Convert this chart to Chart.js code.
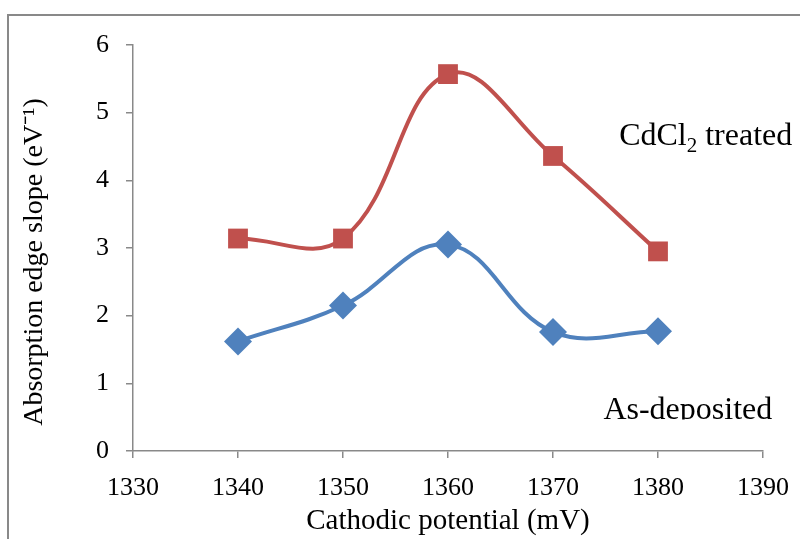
<!DOCTYPE html>
<html>
<head>
<meta charset="utf-8">
<script src="https://cdn.jsdelivr.net/npm/chart.js@4.4.0/dist/chart.umd.min.js"></script>
<style>
  body { margin: 0; background: #fff; }
  #wrap { width: 800px; height: 539px; position: relative; }
</style>
</head>
<body>
<div id="wrap"><canvas id="graphSlope" width="800" height="539"></canvas></div>
<script>
var potentials = [1340, 1350, 1360, 1370, 1380];
var asDeposited = [1.62, 2.15, 3.05, 1.76, 1.77];
var cdcl2Treated = [3.14, 3.14, 5.57, 4.36, 2.95];
var xTicks = [1330, 1340, 1350, 1360, 1370, 1380, 1390];
var yTicks = [0, 1, 2, 3, 4, 5, 6];

var serif = "'Liberation Serif', 'Times New Roman', serif";

function toPoints(values) {
    return potentials.map(function (p, i) { return { x: p, y: values[i] }; });
}

// outer frame of the figure
var framePlugin = {
    id: 'frame',
    beforeDraw: function (chart) {
        var ctx = chart.ctx;
        ctx.save();
        ctx.fillStyle = '#fff';
        ctx.fillRect(0, 0, chart.width, chart.height);
        ctx.strokeStyle = '#898989';
        ctx.lineWidth = 2;
        ctx.strokeRect(8, 15, 900, 900);
        ctx.restore();
    }
};

// series labels written on the plot (CdCl2 needs a subscript)
var labelPlugin = {
    id: 'seriesLabels',
    afterDatasetsDraw: function (chart) {
        var ctx = chart.ctx;
        var xs = chart.scales.x, ys = chart.scales.y;
        ctx.save();
        ctx.fillStyle = '#000';
        ctx.textBaseline = 'alphabetic';
        ctx.font = '32px ' + serif;
        var x = xs.getPixelForValue(1376.3);
        var y = ys.getPixelForValue(4.52);
        ctx.fillText('CdCl', x, y);
        x += ctx.measureText('CdCl').width;
        ctx.font = '21px ' + serif;
        ctx.fillText('2', x, y + 7);
        x += ctx.measureText('2').width;
        ctx.font = '32px ' + serif;
        ctx.fillText(' treated', x, y);

        // the original cuts this label off just under its baseline
        var yb = ys.getPixelForValue(0.48);
        ctx.beginPath();
        ctx.rect(0, 0, chart.width, yb + 1);
        ctx.clip();
        ctx.fillText('As-deposited', xs.getPixelForValue(1374.8), yb);
        ctx.restore();
    }
};

var ctxSlope = document.querySelector('#graphSlope');
var chartSlope = new Chart(ctxSlope, {
    type: 'line',
    data: {
        datasets: [
            {
                label: 'CdCl2 treated',
                data: toPoints(cdcl2Treated),
                borderColor: '#C0504D',
                backgroundColor: '#C0504D',
                borderWidth: 4,
                pointStyle: 'rect',
                pointRadius: 14,
                pointBorderWidth: 0,
                tension: 0.4
            },
            {
                label: 'As-deposited',
                data: toPoints(asDeposited),
                borderColor: '#4F81BD',
                backgroundColor: '#4F81BD',
                borderWidth: 4,
                pointStyle: 'rectRot',
                pointRadius: 14,
                pointBorderWidth: 0,
                tension: 0.4
            }
        ]
    },
    options: {
        responsive: false,
        animation: false,
        layout: { padding: { left: 0, right: 37, top: 45, bottom: 0 } },
        plugins: {
            legend: { display: false },
            tooltip: { enabled: false }
        },
        scales: {
            x: {
                type: 'linear',
                min: 1330,
                max: 1390,
                afterBuildTicks: function (axis) {
                    axis.ticks = xTicks.map(function (v) { return { value: v }; });
                },
                afterFit: function (axis) {
                    axis.height = 88;
                    axis.paddingRight = 0;
                },
                grid: { display: true, drawOnChartArea: false, drawTicks: true, tickLength: 7, color: '#898989', lineWidth: 1.5 },
                border: { color: '#898989', width: 1.5 },
                ticks: {
                    color: '#000', font: { family: serif, size: 26 }, padding: 15, maxRotation: 0,
                    callback: function (v) { return String(v); }
                },
                title: { display: true, text: 'Cathodic potential (mV)', color: '#000', font: { family: serif, size: 29 }, padding: { top: 2, bottom: 0 } }
            },
            y: {
                min: 0,
                max: 6,
                afterBuildTicks: function (axis) {
                    axis.ticks = yTicks.map(function (v) { return { value: v }; });
                },
                afterFit: function (axis) { axis.width = 133; },
                grid: { display: true, drawOnChartArea: false, drawTicks: true, tickLength: 7, color: '#898989', lineWidth: 1.5 },
                border: { color: '#898989', width: 1.5 },
                ticks: { color: '#000', font: { family: serif, size: 26 }, padding: 17 },
                title: { display: true, text: 'Absorption edge slope (eV\u207B\u00B9)\u00A0\u00A0\u00A0\u00A0', color: '#000', font: { family: serif, size: 28 }, padding: { top: 18, bottom: 0 } }
            }
        }
    },
    plugins: [framePlugin, labelPlugin]
});
</script>
</body>
</html>
